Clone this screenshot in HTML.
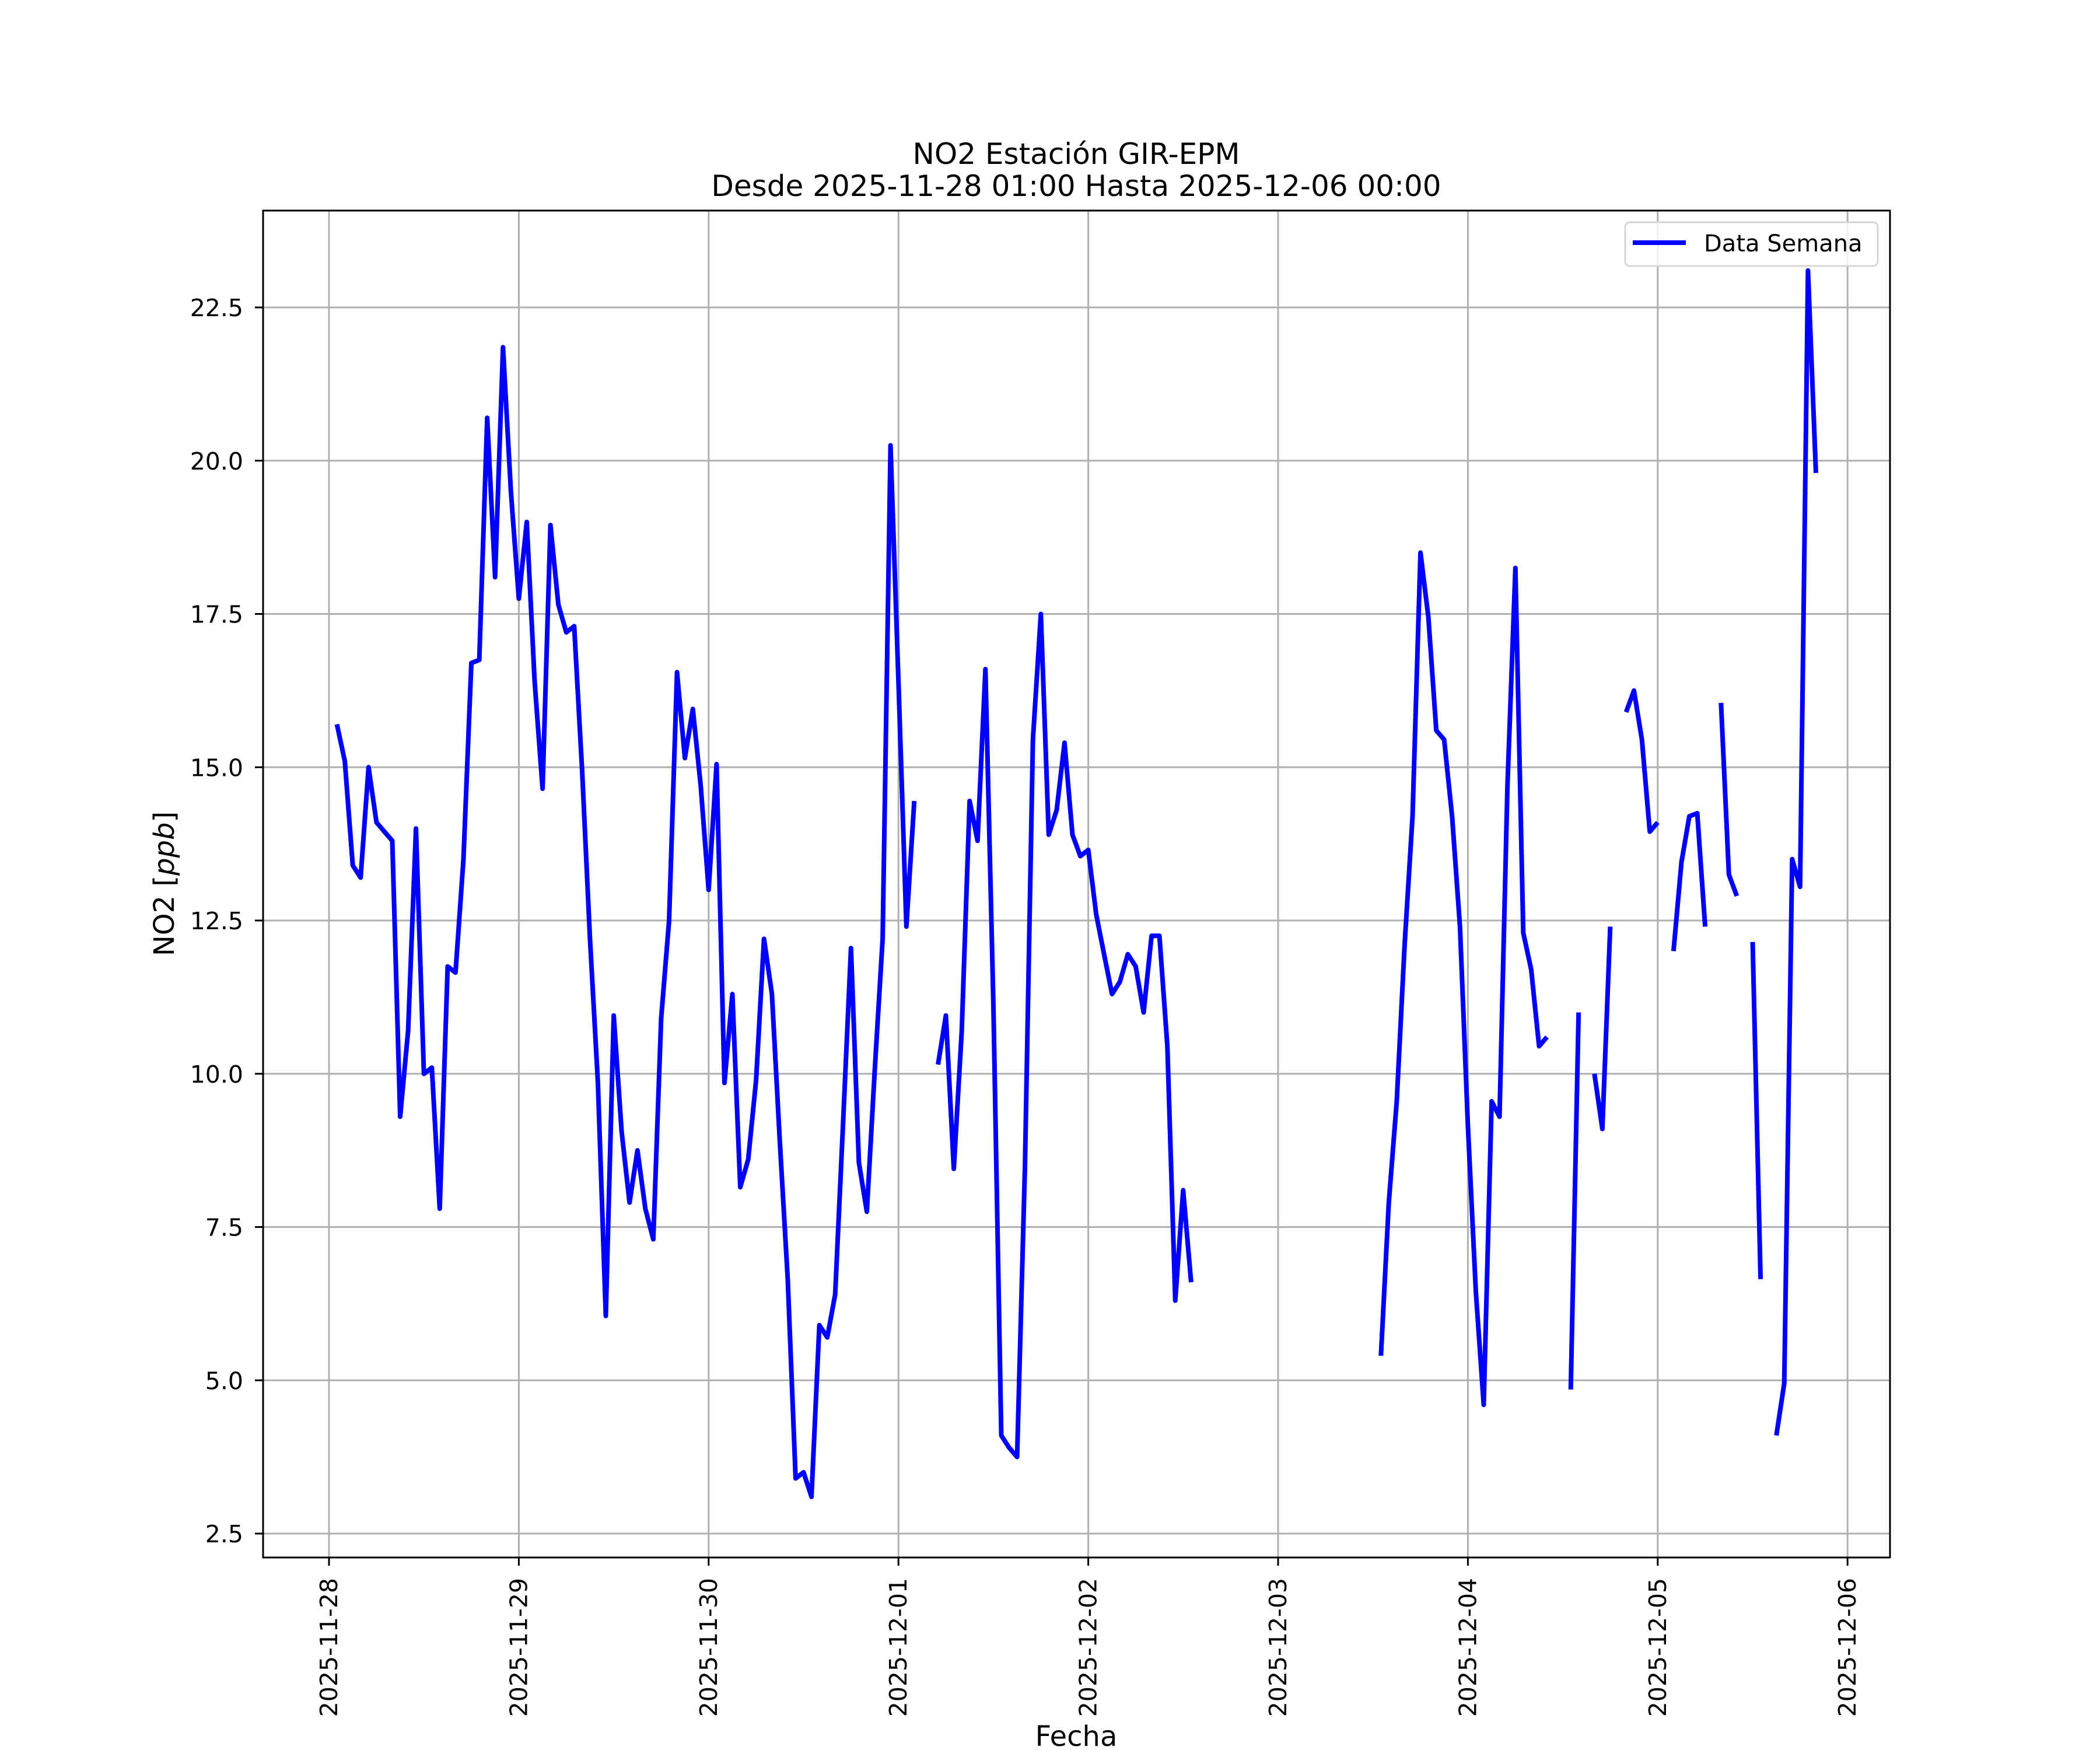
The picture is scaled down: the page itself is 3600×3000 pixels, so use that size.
<!DOCTYPE html>
<html><head><meta charset="utf-8"><style>
html,body{margin:0;padding:0;background:#fff;}
svg{display:block;font-family:"DejaVu Sans","Liberation Sans",sans-serif;}
</style></head><body>
<svg id="chart" width="3600" height="3000" viewBox="0 0 3600 3000" xmlns="http://www.w3.org/2000/svg">
<rect width="3600" height="3000" fill="#fff"/>
<g id="grid"></g>
<g id="series"></g>
<rect x="451" y="361" width="2789" height="2309" fill="none" stroke="#000" stroke-width="3"/>
<g id="ticks"></g>
<text x="1845" y="281" font-size="50" text-anchor="middle">NO2 Estación GIR-EPM</text>
<text x="1845" y="336" font-size="50" text-anchor="middle">Desde 2025-11-28 01:00 Hasta 2025-12-06 00:00</text>
<text x="1845" y="2993" font-size="48" text-anchor="middle">Fecha</text>
<text transform="translate(298,1515) rotate(-90)" font-size="48" text-anchor="middle">NO2 [<tspan font-style="italic">ppb</tspan>]</text>
<g>
<rect x="2786" y="381" width="433" height="75" rx="8" fill="#fff" fill-opacity="0.8" stroke="#d6d6d6" stroke-width="3"/>
<line x1="2799" y1="416" x2="2890" y2="416" stroke="#0000ff" stroke-width="8"/>
<text x="2921" y="431" font-size="40">Data Semana</text>
</g>
</svg>
<script>
const xTickLabels = ["2025-11-28","2025-11-29","2025-11-30","2025-12-01","2025-12-02","2025-12-03","2025-12-04","2025-12-05","2025-12-06"];
const yTickValues = [2.5,5.0,7.5,10.0,12.5,15.0,17.5,20.0,22.5];
const yTickLabels = ["2.5","5.0","7.5","10.0","12.5","15.0","17.5","20.0","22.5"];
// hourly values starting 2025-11-28 00:00 (index = hour offset); null = missing
const no2Values = [null,
15.7,15.1,13.4,13.2,15.0,14.1,13.95,13.8,9.3,10.7,14.0,10.0,10.1,7.8,11.75,11.65,13.5,16.7,16.75,20.7,18.1,21.85,19.5,17.75,
19.0,16.4,14.65,18.95,17.65,17.2,17.3,14.95,12.2,9.85,6.05,10.95,9.05,7.9,8.75,7.8,7.3,10.9,12.5,16.55,15.15,15.95,14.7,13.0,
15.05,9.85,11.3,8.15,8.6,9.9,12.2,11.3,8.9,6.65,3.4,3.5,3.1,5.9,5.7,6.4,9.2,12.05,8.55,7.75,10.05,12.2,20.25,16.4,
12.4,14.45,null,null,10.15,10.95,8.45,10.7,14.45,13.8,16.6,11.15,4.1,3.9,3.75,8.5,15.45,17.5,13.9,14.3,15.4,13.9,13.55,13.65,
12.6,11.95,11.3,11.5,11.95,11.75,11.0,12.25,12.25,10.45,6.3,8.1,6.6,null,null,null,null,null,null,null,null,null,null,null,
null,null,null,null,null,null,null,null,null,null,null,null,5.4,7.9,9.55,12.1,14.2,18.5,17.45,15.6,15.45,14.2,12.4,9.15,
6.45,4.6,9.55,9.3,14.7,18.25,12.3,11.7,10.45,10.6,null,null,4.85,11.0,null,10.0,9.1,12.4,null,15.9,16.25,15.45,13.95,14.1,
null,12.0,13.45,14.2,14.25,12.4,null,16.05,13.25,12.9,null,12.15,6.65,null,4.1,4.95,13.5,13.05,23.1,19.8];

const NS = "http://www.w3.org/2000/svg";
const X0 = 564, PX_PER_DAY = 325.4, Y225 = 527, PX_PER_UNIT = 105.1;
const L = 451, R = 3240, T = 361, B = 2670;
function xScale(h){ return X0 + h / 24 * PX_PER_DAY; }
function yScale(v){ return Y225 + (22.5 - v) * PX_PER_UNIT; }
function mk(tag, attrs, parent){ const e = document.createElementNS(NS, tag); for (const k in attrs) e.setAttribute(k, attrs[k]); parent.appendChild(e); return e; }

const grid = document.getElementById('grid');
const ticks = document.getElementById('ticks');
xTickLabels.forEach((lab, i) => {
  const x = xScale(i * 24);
  const g = mk('line', {x1:x, y1:T, x2:x, y2:B, stroke:'#b0b0b0', 'stroke-width':3}, grid);
  
  
  const t = mk('line', {x1:x, y1:B, x2:x, y2:B+14, stroke:'#000', 'stroke-width':3}, ticks);
  
  
  const tx = mk('text', {transform:`translate(${x+14},2705) rotate(-90)`, 'font-size':41, 'text-anchor':'end'}, ticks);
  tx.textContent = lab;
  
  
});
yTickValues.forEach((v, i) => {
  const y = yScale(v);
  const g = mk('line', {x1:L, y1:y, x2:R, y2:y, stroke:'#b0b0b0', 'stroke-width':3}, grid);
  
  
  const t = mk('line', {x1:L-14, y1:y, x2:L, y2:y, stroke:'#000', 'stroke-width':3}, ticks);
  
  
  const tx = mk('text', {x:417, y:y+15, 'font-size':41, 'text-anchor':'end'}, ticks);
  tx.textContent = yTickLabels[i];
  
  
});

const series = document.getElementById('series');
let seg = [];
function flush(){
  if (seg.length > 1) {
    const p = mk('polyline', {points:seg.join(' '), fill:'none', stroke:'#0000ff', 'stroke-width':8, 'stroke-linejoin':'round', 'stroke-linecap':'butt'}, series);
    
    
  }
  seg = [];
}
no2Values.forEach((v, h) => {
  if (v === null) { flush(); return; }
  seg.push(xScale(h).toFixed(1) + ',' + yScale(v).toFixed(1));
});
flush();
</script>
</body></html>
